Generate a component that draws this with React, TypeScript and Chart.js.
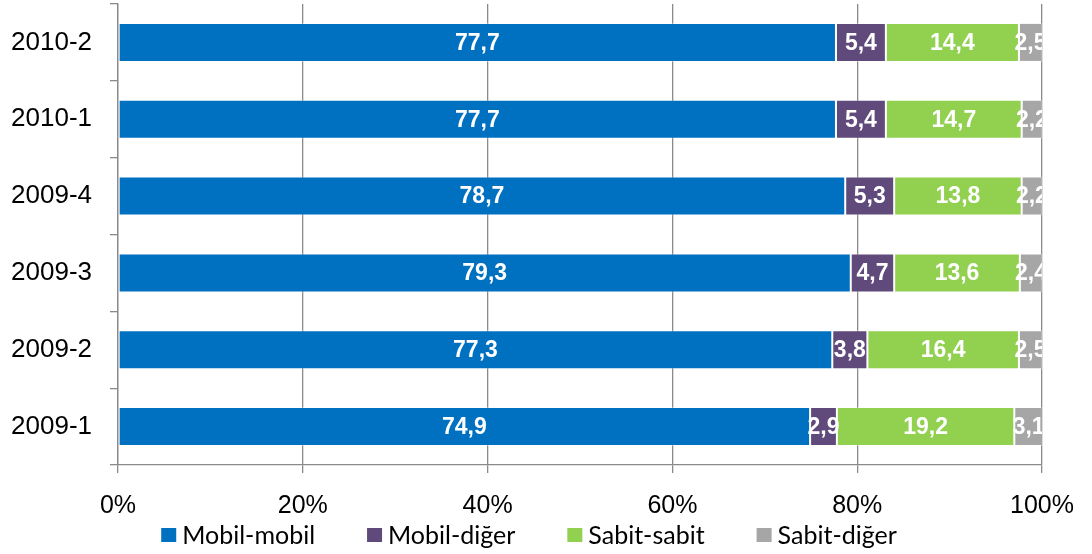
import React, { useEffect, useRef } from "react";
import { Chart, registerables } from "chart.js";

Chart.register(...registerables);

const categories = ["2010-2", "2010-1", "2009-4", "2009-3", "2009-2", "2009-1"];
const mobilMobil = [77.7, 77.7, 78.7, 79.3, 77.3, 74.9];
const mobilDiger = [5.4, 5.4, 5.3, 4.7, 3.8, 2.9];
const sabitSabit = [14.4, 14.7, 13.8, 13.6, 16.4, 19.2];
const sabitDiger = [2.5, 2.2, 2.2, 2.4, 2.5, 3.1];
const seriesNames = ["Mobil-mobil", "Mobil-diğer", "Sabit-sabit", "Sabit-diğer"];
const seriesColors = ["#0070C0", "#604A7B", "#92D050", "#A6A6A6"];
const xTicks = [0, 20, 40, 60, 80, 100];

const labelPlugin = {
  id: "segLabels",
  afterDatasetsDraw(chart: any) {
    const ctx = chart.ctx;
    const area = chart.chartArea;
    ctx.save();
    ctx.beginPath();
    ctx.rect(area.left, area.top, area.right - area.left, area.bottom - area.top);
    ctx.clip();
    ctx.font = "bold 23px 'Liberation Sans', Arial, sans-serif";
    ctx.fillStyle = "#ffffff";
    ctx.textAlign = "center";
    ctx.textBaseline = "middle";
    chart.data.datasets.forEach((ds: any, di: number) => {
      const meta = chart.getDatasetMeta(di);
      meta.data.forEach((el: any, i: number) => {
        const v = ds.data[i];
        const props = el.getProps(["x", "y", "base"], true);
        const cx = (props.x + props.base) / 2;
        ctx.fillText(v.toFixed(1).replace(".", ","), cx, props.y + 1);
      });
    });
    ctx.restore();
  },
};

const legendPlugin = {
  id: "customLegend",
  afterDraw(chart: any) {
    const ctx = chart.ctx;
    ctx.save();
    ctx.font = "25px Lato, 'Open Sans', sans-serif";
    ctx.textBaseline = "middle";
    ctx.textAlign = "left";
    const box = 15;
    const textOff = 21;
    const gap = 52;
    const ds = chart.data.datasets;
    const widths = ds.map((d: any) => textOff + ctx.measureText(d.label).width);
    const total = widths.reduce((a: number, b: number) => a + b, 0) + gap * (ds.length - 1);
    let x = 529 - total / 2;
    const cy = 535;
    ds.forEach((d: any, i: number) => {
      ctx.fillStyle = d.backgroundColor;
      ctx.fillRect(x, cy - 7, box, 14);
      ctx.fillStyle = "#000";
      ctx.fillText(d.label, x + textOff, cy + 1);
      x += widths[i] + gap;
    });
    ctx.restore();
  },
};

export default function App() {
  const ref = useRef<HTMLCanvasElement>(null);
  useEffect(() => {
    const datasets = [mobilMobil, mobilDiger, sabitSabit, sabitDiger].map((d, i) => ({
      label: seriesNames[i],
      data: d,
      backgroundColor: seriesColors[i],
      borderColor: "rgba(255,255,255,0.35)",
      borderWidth: 1,
      borderSkipped: false,
      barPercentage: 0.508,
      categoryPercentage: 1,
    }));
    const chart = new Chart(ref.current!, {
      type: "bar",
      data: { labels: categories, datasets },
      plugins: [labelPlugin, legendPlugin],
      options: {
        indexAxis: "y",
        animation: false,
        responsive: false,
        layout: { padding: { top: 4, right: 48, left: 0, bottom: 38 } },
        plugins: {
          tooltip: { enabled: false },
          legend: { display: false },
        },
        scales: {
          x: {
            stacked: true,
            min: 0,
            max: 100,
            afterBuildTicks: (s: any) => {
              s.ticks = xTicks.map((v) => ({ value: v }));
            },
            afterFit: (s: any) => {
              s.height = 51;
            },
            ticks: {
              callback: (v: any) => v + "%",
              color: "#000",
              padding: 18,
              font: { family: "'Liberation Sans', Arial, sans-serif", size: 25 },
              maxRotation: 0,
            },
            grid: { color: "#8a8a8a", lineWidth: 1.3, tickLength: 8 },
            border: { color: "#8a8a8a", width: 1.3 },
          },
          y: {
            stacked: true,
            afterFit: (s: any) => {
              s.width = 118;
              s.paddingTop = 0;
              s.paddingBottom = 0;
            },
            ticks: {
              color: "#000",
              padding: 18,
              font: { family: "'Liberation Sans', Arial, sans-serif", size: 26 },
            },
            grid: { offset: true, drawOnChartArea: false, color: "#8a8a8a", lineWidth: 1.3, tickLength: 8 },
            border: { color: "#8a8a8a", width: 1.3 },
          },
        },
      },
    });
    return () => chart.destroy();
  }, []);
  return (
    <div style={{ position: "fixed", left: 0, top: 0, width: 1092, height: 554, background: "#fff" }}>
      <canvas ref={ref} width={1092} height={554} style={{ width: 1092, height: 554 }} />
    </div>
  );
}
